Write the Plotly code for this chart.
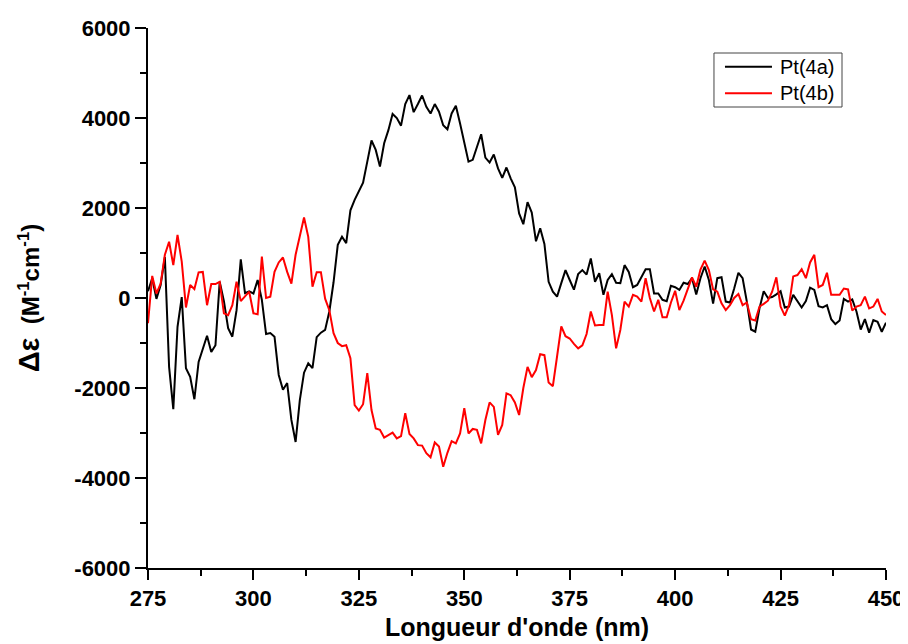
import plotly.graph_objects as go

wavelength = list(range(275, 451))

pt4a = [150, 440, -20, 290, 910, -1530, -2470, -640, 20, -1560,
        -1750, -2250, -1420, -1110, -840, -1200, -1050, 360, -70, -670,
        -860, -270, 860, 110, 150, 100, 400, -40, -800, -780,
        -860, -1710, -2040, -1890, -2710, -3200, -2270, -1660, -1450, -1560,
        -870, -770, -710, -300, 350, 1180, 1360, 1220, 1950, 2180,
        2360, 2560, 3030, 3500, 3290, 2920, 3440, 3730, 4090, 4000,
        3830, 4310, 4510, 4130, 4310, 4500, 4250, 4100, 4310, 4140,
        3840, 3750, 4100, 4270, 3880, 3470, 3030, 3070, 3360, 3640,
        3120, 3010, 3190, 2880, 2670, 2900, 2660, 2460, 1880, 1640,
        2130, 1900, 1260, 1550, 1200, 360, 140, 30, 330, 620,
        400, 185, 530, 620, 520, 880, 360, 550, 70, 400,
        530, 340, 330, 730, 580, 240, 290, 470, 640, 640,
        100, 100, -40, -70, 270, 240, 180, 340, 310, 440,
        80, 440, 700, 400, -125, 440, 460, -80, -100, 210,
        560, 440, -80, -700, -750, -230, 150, 0, 20, 80,
        150, -210, -190, 70, -80, -210, -70, 230, 180, -180,
        -210, -160, -470, -580, -500, -20, -80, -30, -300, -700,
        -470, -770, -490, -530, -750, -550]

pt4b = [-560, 490, 100, 320, 960, 1250, 730, 1400, 810, -210,
        290, 200, 570, 580, -160, 310, 310, 360, -340, -380,
        -160, 360, -70, 30, 140, -340, -360, 920, 0, 30,
        580, 790, 900, 580, 320, 960, 1350, 1790, 1360, 250,
        575, 575, -15, -270, -780, -1000, -1070, -1050, -1340, -2380,
        -2500, -2360, -1670, -2490, -2900, -2930, -3100, -3040, -2990, -3120,
        -3070, -2560, -3020, -3120, -3270, -3280, -3450, -3540, -3210, -3300,
        -3750, -3440, -3180, -3230, -3010, -2450, -3010, -2910, -2930, -3230,
        -2710, -2320, -2420, -3040, -2820, -2120, -2160, -2320, -2600, -2000,
        -1530, -1760, -1600, -1250, -1270, -1880, -1960, -1300, -630, -850,
        -900, -1020, -1120, -1050, -800, -300, -610, -600, -600, 140,
        -380, -1120, -710, -80, -190, 70, 30, -80, 440, 0,
        -300, -40, -430, -430, -100, 160, -270, -60, 180, 460,
        250, 630, 830, 620, 190, 140, -120, -270, -160, 0,
        90, -160, -100, -470, -500, -190, -130, -60, 140, 460,
        -190, -390, -160, 480, 510, 640, 440, 790, 960, 240,
        290, 560, 70, 70, 70, 210, 190, -280, -190, -160,
        30, -230, -190, -20, -300, -380]

series_names = ["Pt(4a)", "Pt(4b)"]
series_colors = ["black", "#ff0000"]

x_ticks = [275, 300, 325, 350, 375, 400, 425, 450]
y_ticks = [-6000, -4000, -2000, 0, 2000, 4000, 6000]

FONT = "Arial, Liberation Sans, sans-serif"

fig = go.Figure()
for vals, name, color in zip([pt4a, pt4b], series_names, series_colors):
    fig.add_trace(go.Scatter(x=wavelength, y=vals, mode="lines", name=name,
                             line=dict(color=color, width=2), showlegend=False))

# Legend box drawn in paper coordinates (Origin-style legend)
legend_rows_y = [0.9283, 0.8791]
shapes = [dict(type="rect", xref="paper", yref="paper", x0=0.7669, x1=0.9404,
               y0=0.8537, y1=0.9537, line=dict(color="#444444", width=1),
               fillcolor="white", layer="above")]
annotations = []
for name, color, yy in zip(series_names, series_colors, legend_rows_y):
    shapes.append(dict(type="line", xref="paper", yref="paper", x0=0.7818, x1=0.8455,
                       y0=yy, y1=yy, line=dict(color=color, width=2), layer="above"))
    annotations.append(dict(text=name, xref="paper", yref="paper", x=0.8530, y=yy,
                            xanchor="left", yanchor="middle", showarrow=False,
                            font=dict(size=20, family=FONT, color="black")))

fig.update_layout(
    width=908, height=644,
    margin=dict(l=140, r=30, t=20, b=84, autoexpand=False),
    paper_bgcolor="white", plot_bgcolor="white",
    font=dict(family=FONT, color="black"),
    showlegend=False,
    shapes=shapes, annotations=annotations,
)

fig.update_xaxes(
    range=[275, 450], tickvals=x_ticks, ticktext=[str(v) for v in x_ticks],
    automargin=False,
    showgrid=False, zeroline=False, showline=True, linecolor="black", linewidth=2,
    ticks="outside", ticklen=10, tickwidth=2, tickcolor="black",
    minor=dict(ticks="outside", dtick=12.5, tick0=275, ticklen=6, tickwidth=2, tickcolor="black"),
    tickfont=dict(size=22, family=FONT, weight="bold"),
    title=dict(text="<b>Longueur d'onde (nm)</b>", font=dict(size=25, family=FONT), standoff=8),
)
fig.update_yaxes(
    range=[-6000, 6000], tickvals=y_ticks, ticktext=[str(v) for v in y_ticks],
    automargin=False,
    showgrid=False, zeroline=False, showline=True, linecolor="black", linewidth=2,
    ticks="outside", ticklen=11, tickwidth=2, tickcolor="black",
    minor=dict(ticks="outside", dtick=1000, tick0=-6000, ticklen=6, tickwidth=2, tickcolor="black"),
    tickfont=dict(size=22, family=FONT, weight="bold"),
    title=dict(text="<b><span style='font-size:29px'>Δε</span>  (M<sup>-1</sup>cm<sup>-1</sup>)</b>",
               font=dict(size=24, family=FONT), standoff=28),
)

fig.write_html("out.html")
